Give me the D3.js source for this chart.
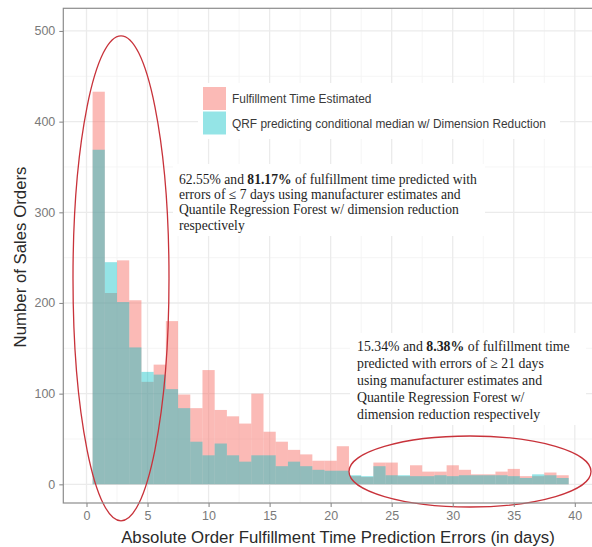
<!DOCTYPE html>
<html>
<head>
<meta charset="utf-8">
<script src="https://cdn.jsdelivr.net/npm/d3@7"></script>
<style>
  body { margin: 0; background: #fff; }
  svg { display: block; }
</style>
</head>
<body>
<div id="viz"></div>
<script>
// bin centres (days), bins are 1 day wide
const bins = d3.range(1, 40)

// Fulfillment Time Estimated (manufacturer estimates)
const estimated = [433, 211, 247, 203, 113, 132, 180, 99, 84, 126,
  82, 75, 67, 100, 58, 47, 38, 33, 26, 26,
  42, 9, 8, 24, 24, 9, 21, 14, 14, 21,
  16, 11, 11, 14, 17, 9, 9, 13, 10]

// QRF predicting conditional median w/ Dimension Reduction
const qrf = [369, 245, 201, 151, 124, 121, 105, 84, 47, 32,
  45, 32, 25, 32, 32, 20, 25, 20, 16, 15,
  15, 10, 9, 20, 10, 10, 9, 9, 10, 9,
  10, 10, 10, 10, 9, 7, 11, 10, 7]

const xTicks = [0, 5, 10, 15, 20, 25, 30, 35, 40]
const yTicks = [0, 100, 200, 300, 400, 500]

const legendLabels = ["Fulfillment Time Estimated", "QRF predicting conditional median w/ Dimension Reduction"]
const colors = ["#F8766D", "#00BFC4"]

const W = 592, H = 547

const svg = d3.select("#viz").append("svg").attr("width", W).attr("height", H)
svg.append("rect").attr("width", W).attr("height", H).attr("fill", "#fff")

const x = d3.scaleLinear().domain([-1.9, 41.9]).range([63.3, 598])
const y = d3.scaleLinear().domain([-20.6, 525]).range([503, 8.3])

const panel = svg.append("g")

// grid, minor then major
const xMinor = d3.range(-2.5, 42.5, 5)
const yMinor = d3.range(-50, 550, 100)
panel.selectAll(".xminor").data(xMinor.filter(d => x(d) > 63.3)).enter().append("line")
  .attr("x1", d => x(d)).attr("x2", d => x(d)).attr("y1", y.range()[1]).attr("y2", y.range()[0])
  .attr("stroke", "#f2f2f2").attr("stroke-width", 0.8)
panel.selectAll(".yminor").data(yMinor.filter(d => y(d) < 503 && y(d) > 8.3)).enter().append("line")
  .attr("x1", 63.3).attr("x2", W).attr("y1", d => y(d)).attr("y2", d => y(d))
  .attr("stroke", "#f2f2f2").attr("stroke-width", 0.8)
panel.selectAll(".xmajor").data(xTicks).enter().append("line")
  .attr("x1", d => x(d)).attr("x2", d => x(d)).attr("y1", y.range()[1]).attr("y2", y.range()[0])
  .attr("stroke", "#ebebeb").attr("stroke-width", 1.3)
panel.selectAll(".ymajor").data(yTicks).enter().append("line")
  .attr("x1", 63.3).attr("x2", W).attr("y1", d => y(d)).attr("y2", d => y(d))
  .attr("stroke", "#ebebeb").attr("stroke-width", 1.3)

// histograms
const series = [estimated, qrf]
series.forEach((vals, s) => {
  panel.selectAll(".bar" + s).data(bins).enter().append("rect")
    .attr("x", d => x(d - 0.5))
    .attr("width", d => x(d + 0.5) - x(d - 0.5))
    .attr("y", (d, i) => y(vals[i]))
    .attr("height", (d, i) => y(0) - y(vals[i]))
    .attr("fill", colors[s])
    .attr("fill-opacity", s == 0 ? 0.5 : 0.42)
})

// legend
const leg = svg.append("g")
leg.append("rect").attr("x", 198).attr("y", 83).attr("width", 362).attr("height", 56).attr("fill", "#fff")
legendLabels.forEach((t, i) => {
  leg.append("rect").attr("x", 203).attr("y", 87 + i * 24.5).attr("width", 23).attr("height", 23)
    .attr("fill", colors[i]).attr("fill-opacity", i == 0 ? 0.5 : 0.42)
  leg.append("text").attr("x", 232).attr("y", 99 + i * 24.5).attr("dy", "0.35em")
    .attr("font-family", "Liberation Sans, Arial, sans-serif").attr("font-size", 11.9)
    .attr("fill", "#3a3a3a").text(t)
})

// annotations
const note1 = [
  [["62.55% and ", false], ["81.17%", true], [" of fulfillment time predicted with", false]],
  [["errors of \u2264 7 days using manufacturer estimates and", false]],
  [["Quantile Regression Forest w/ dimension reduction", false]],
  [["respectively", false]]
]
const note2 = [
  [["15.34% and ", false], ["8.38%", true], [" of fulfillment time", false]],
  [["predicted with errors of \u2265 21 days", false]],
  [["using manufacturer estimates and", false]],
  [["Quantile Regression Forest w/", false]],
  [["dimension reduction respectively", false]]
]

function note(lines, x0, y0, lh, fs, box) {
  svg.append("rect").attr("x", box[0]).attr("y", box[1]).attr("width", box[2]).attr("height", box[3]).attr("fill", "#fff")
  const t = svg.append("text").attr("font-family", "Liberation Serif, Times New Roman, serif")
    .attr("font-size", fs).attr("fill", "#1e1e1e")
  lines.forEach((parts, i) => {
    parts.forEach((p, j) => {
      const ts = t.append("tspan").text(p[0]).attr("font-weight", p[1] ? "bold" : "normal")
      if (j == 0) ts.attr("x", x0).attr("y", y0 + i * lh)
    })
  })
}
note(note1, 179, 183.5, 15.4, 13.6, [173, 164, 312, 72])
note(note2, 357, 351, 16.9, 13.8, [350, 333, 236, 92])

// ellipses
svg.append("ellipse").attr("cx", 121).attr("cy", 278.3).attr("rx", 48).attr("ry", 242.5)
  .attr("fill", "none").attr("stroke", "#c8323a").attr("stroke-width", 1.3)
svg.append("ellipse").attr("cx", 470).attr("cy", 471.5).attr("rx", 121).attr("ry", 35.5)
  .attr("fill", "none").attr("stroke", "#c8323a").attr("stroke-width", 1.3)

// panel border
svg.append("rect").attr("x", 63.3).attr("y", 8.3).attr("width", 598 - 63.3).attr("height", 503 - 8.3)
  .attr("fill", "none").attr("stroke", "#8c8c8c").attr("stroke-width", 1.2)

// axes
const xAxis = d3.axisBottom(x).tickValues(xTicks).tickSize(4).tickPadding(4)
const gx = svg.append("g").attr("transform", "translate(0,503)").call(xAxis)
gx.select(".domain").remove()
gx.selectAll("line").attr("stroke", "#8c8c8c").attr("stroke-width", 1.1)
gx.selectAll("text").attr("font-family", "Liberation Sans, Arial, sans-serif").attr("font-size", 12.5).attr("fill", "#7a7a7a")

const yAxis = d3.axisLeft(y).tickValues(yTicks).tickSize(4).tickPadding(4)
const gy = svg.append("g").attr("transform", "translate(63.3,0)").call(yAxis)
gy.select(".domain").remove()
gy.selectAll("line").attr("stroke", "#8c8c8c").attr("stroke-width", 1.1)
gy.selectAll("text").attr("font-family", "Liberation Sans, Arial, sans-serif").attr("font-size", 12.5).attr("fill", "#7a7a7a")

svg.append("text").attr("x", 338).attr("y", 537).attr("dy", "0.35em").attr("text-anchor", "middle")
  .attr("font-family", "Liberation Sans, Arial, sans-serif").attr("font-size", 16.8).attr("fill", "#2a2a2a")
  .text("Absolute Order Fulfillment Time Prediction Errors (in days)")
svg.append("text").attr("transform", "translate(20,257) rotate(-90)").attr("dy", "0.35em").attr("text-anchor", "middle")
  .attr("font-family", "Liberation Sans, Arial, sans-serif").attr("font-size", 16.8).attr("fill", "#2a2a2a")
  .text("Number of Sales Orders")
</script>
</body>
</html>
